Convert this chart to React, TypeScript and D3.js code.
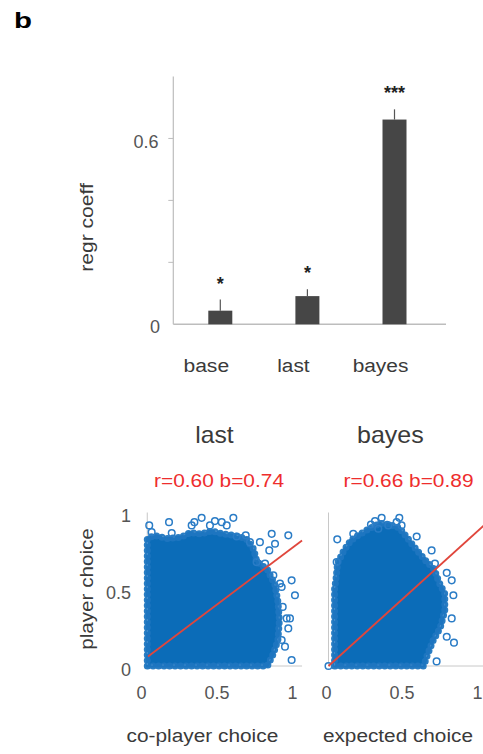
import React from "react";
import * as d3 from "d3";

// top panel: regression coefficients
const categories = ["base", "last", "bayes"];
const coefs = [0.044, 0.091, 0.661];
const sems = [0.036, 0.022, 0.033];
const stars = ["*", "*", "***"];
const barTicks = [0.2, 0.4, 0.6];
const barTickLabels = ["", "", "0.6"];

// bottom panels: scatter of player choice vs predictor
const panelNames = ["last", "bayes"];
const panelXLabels = ["co-player choice", "expected choice"];
const fitR = ["0.60", "0.66"];
const fitB = [0.74, 0.89];
const fitIntercept = [0.04, 0.0];
const fitXStart = [0.03, 0.0];
const dataXMin = [0.025, 0];
const scatterTicks = [0, 0.5, 1];

// outline of the dense point cloud (x, y)
const cloudLast: [number, number][] = [
  [0.025, 0.0], [0.025, 0.83], [0.07, 0.85], [0.16, 0.83], [0.25, 0.84],
  [0.31, 0.87], [0.38, 0.86], [0.45, 0.88], [0.53, 0.86], [0.6, 0.85],
  [0.68, 0.83], [0.73, 0.76], [0.75, 0.68], [0.82, 0.63], [0.87, 0.53],
  [0.89, 0.42], [0.9, 0.3], [0.89, 0.17], [0.86, 0.08], [0.82, 0.0],
];
const cloudBayes: [number, number][] = [
  [0.04, 0.0], [0.04, 0.5], [0.05, 0.57], [0.06, 0.67], [0.1, 0.75],
  [0.15, 0.82], [0.21, 0.86], [0.28, 0.9], [0.34, 0.93], [0.41, 0.92],
  [0.47, 0.9], [0.51, 0.85], [0.58, 0.76], [0.64, 0.69], [0.7, 0.63],
  [0.73, 0.55], [0.77, 0.47], [0.77, 0.36], [0.74, 0.25], [0.69, 0.16],
  [0.65, 0.06], [0.63, 0.0],
];

// stray points outside the dense cloud
const strayLast: [number, number][] = [
  [0.038, 0.916], [0.054, 0.872], [0.169, 0.937], [0.187, 0.866], [0.319, 0.916],
  [0.337, 0.937], [0.385, 0.965], [0.44, 0.916], [0.473, 0.944], [0.518, 0.937],
  [0.551, 0.916], [0.595, 0.965], [0.617, 0.844], [0.677, 0.851], [0.705, 0.807],
  [0.771, 0.807], [0.833, 0.753], [0.849, 0.861], [0.871, 0.796], [0.959, 0.851],
  [0.86, 0.591], [0.915, 0.515], [0.981, 0.558], [1.003, 0.461], [0.922, 0.385],
  [0.948, 0.31], [0.97, 0.31], [0.959, 0.245], [0.915, 0.169], [0.981, 0.039],
  [0.937, 0.126], [0.904, 0.537], [0.749, 0.677], [0.805, 0.667],
];
const strayBayes: [number, number][] = [
  [0.0, 0.0], [0.058, 0.825], [0.164, 0.861], [0.281, 0.922], [0.308, 0.944],
  [0.352, 0.965], [0.396, 0.916], [0.469, 0.965], [0.451, 0.937], [0.484, 0.916],
  [0.584, 0.844], [0.683, 0.753], [0.705, 0.667], [0.783, 0.607], [0.816, 0.558],
  [0.827, 0.461], [0.816, 0.31], [0.783, 0.191], [0.831, 0.152], [0.716, 0.03],
  [0.33, 0.894], [0.054, 0.677],
];
const clouds = [cloudLast, cloudBayes];
const strays = [strayLast, strayBayes];

const FONT = "'Liberation Sans', Arial, sans-serif";
const BLUE = "#0b6cb8";
const RED = "#ee2d2d";
const TXT = "#3a3a3a";

export default function App() {
  const W = 483;
  const H = 754;

  // bar chart scales
  const by = d3.scaleLinear().domain([0, 0.8]).range([324.3, 76.5]);
  const bx = d3.scalePoint<string>().domain(categories).range([220.3, 394.5]);
  const barW = 24;
  const axisLeft = 173.3;
  const axisRight = 446;

  // scatter scales
  const sy = d3.scaleLinear().domain([0, 1]).range([666, 512.5]);
  const panelX0 = [143.5, 328.5];
  const sxs = panelX0.map((x0) => d3.scaleLinear().domain([0, 1]).range([x0, x0 + 151]));
  const titleX = [0.47, 0.41];
  const fitTextX = [0.5, 0.53];
  const titleLen = [38.3, 66.7];
  const xLabelX = [0.39, 0.46];

  return (
    <svg
      width={W}
      height={H}
      style={{ position: "absolute", left: 0, top: 0, background: "#fff" }}
      fontFamily={FONT}
    >
      <text x={14} y={28} fontSize={22} fontWeight="bold" textLength={18} lengthAdjust="spacingAndGlyphs">
        b
      </text>

      {/* bar chart */}
      <g>
        <line x1={axisLeft} x2={axisLeft} y1={by(0.8)} y2={by(0)} stroke="#bdbdbd" strokeWidth={1.2} />
        <line x1={axisLeft} x2={axisRight} y1={by(0)} y2={by(0)} stroke="#bdbdbd" strokeWidth={1.5} />
        {barTicks.map((t, i) => (
          <g key={t}>
            <line x1={axisLeft - 5} x2={axisLeft} y1={by(t)} y2={by(t)} stroke="#bdbdbd" strokeWidth={1} />
            {barTickLabels[i] && (
              <text x={158.5} y={by(t)} dy={9.3} textAnchor="end" fontSize={18} fill="#555">
                {barTickLabels[i]}
              </text>
            )}
          </g>
        ))}
        <text x={160} y={by(0)} dy={8.7} textAnchor="end" fontSize={18} fill="#555">
          0
        </text>
        <text
          transform={`translate(93,227.5) rotate(-90)`}
          textAnchor="middle"
          fontSize={18}
          fill={TXT}
          textLength={88.7}
          lengthAdjust="spacingAndGlyphs"
        >
          regr coeff
        </text>
        {categories.map((c, i) => {
          const cx = bx(c) as number;
          const top = coefs[i] + sems[i];
          const lens = [45.7, 32.3, 55.7];
          return (
            <g key={c}>
              <line x1={cx} x2={cx} y1={by(coefs[i])} y2={by(top)} stroke="#555" strokeWidth={1.2} />
              <rect x={cx - barW / 2} y={by(coefs[i])} width={barW} height={by(0) - by(coefs[i])} fill="#464646" />
              <text x={cx} y={by(top) - 10} textAnchor="middle" fontSize={18} fontWeight="bold" fill="#222">
                {stars[i]}
              </text>
              <text
                x={cx - 14}
                y={372}
                textAnchor="middle"
                fontSize={18}
                fill={TXT}
                textLength={lens[i]}
                lengthAdjust="spacingAndGlyphs"
              >
                {c}
              </text>
            </g>
          );
        })}
      </g>

      {/* scatter panels */}
      {panelNames.map((name, p) => {
        const sx = sxs[p];
        const outline = d3
          .line<[number, number]>()
          .x((d) => sx(d[0]))
          .y((d) => sy(d[1]))
          .curve(d3.curveLinearClosed);
        const xEnd = 1.05;
        const d = outline(clouds[p]) || "";
        return (
          <g key={name}>
            <text
              x={sx(titleX[p])}
              y={443.3}
              textAnchor="middle"
              fontSize={24}
              fill={TXT}
              textLength={titleLen[p]}
              lengthAdjust="spacingAndGlyphs"
            >
              {name}
            </text>
            <text
              x={sx(fitTextX[p])}
              y={486.5}
              textAnchor="middle"
              fontSize={18}
              fill={RED}
              textLength={130}
              lengthAdjust="spacingAndGlyphs"
            >
              {`r=${fitR[p]} b=${fitB[p].toFixed(2)}`}
            </text>
            <line x1={sx(dataXMin[p])} x2={sx(dataXMin[p])} y1={sy(0)} y2={sy(1)} stroke="#c8c8c8" strokeWidth={1} />
            <line x1={sx(dataXMin[p])} x2={sx(xEnd)} y1={sy(0)} y2={sy(0)} stroke="#c8c8c8" strokeWidth={1} />
            <path d={d} fill={BLUE} stroke={BLUE} strokeWidth={3} strokeLinejoin="round" />
            {/* marker-like rim along the cloud edge */}
            <path
              d={d}
              fill="none"
              stroke="#1f76c0"
              strokeWidth={7}
              strokeLinecap="round"
              strokeDasharray="0 5.5"
              opacity={0.95}
            />
            <path
              d={d}
              fill="none"
              stroke="#4f93cf"
              strokeWidth={1.2}
              strokeDasharray="2 9"
              transform="translate(0,-1)"
              opacity={0.7}
            />
            {strays[p].map((pt, i) => (
              <circle key={i} cx={sx(pt[0])} cy={sy(pt[1])} r={3.3} fill="none" stroke="#2a7cc6" strokeWidth={1.5} />
            ))}
            <line
              x1={sx(fitXStart[p])}
              x2={sx(xEnd)}
              y1={sy(fitIntercept[p] + fitB[p] * fitXStart[p])}
              y2={sy(fitIntercept[p] + fitB[p] * xEnd)}
              stroke="#e0463c"
              strokeWidth={1.8}
            />
            {scatterTicks.map((t) => (
              <text key={t} x={sx(t)} dx={-2} y={699} textAnchor="middle" fontSize={18} fill="#555">
                {t}
              </text>
            ))}
            {p === 0 &&
              scatterTicks.map((t) => (
                <text key={"y" + t} x={131} y={sy(t)} dy={9.5} textAnchor="end" fontSize={18} fill="#555">
                  {t}
                </text>
              ))}
            <text
              x={sx(xLabelX[p])}
              y={742}
              textAnchor="middle"
              fontSize={18}
              fill={TXT}
              textLength={p === 0 ? 151.7 : 150}
              lengthAdjust="spacingAndGlyphs"
            >
              {panelXLabels[p]}
            </text>
          </g>
        );
      })}
      <text
        transform={`translate(92.5,589) rotate(-90)`}
        textAnchor="middle"
        fontSize={18}
        fill={TXT}
        textLength={121.7}
        lengthAdjust="spacingAndGlyphs"
      >
        player choice
      </text>
    </svg>
  );
}
